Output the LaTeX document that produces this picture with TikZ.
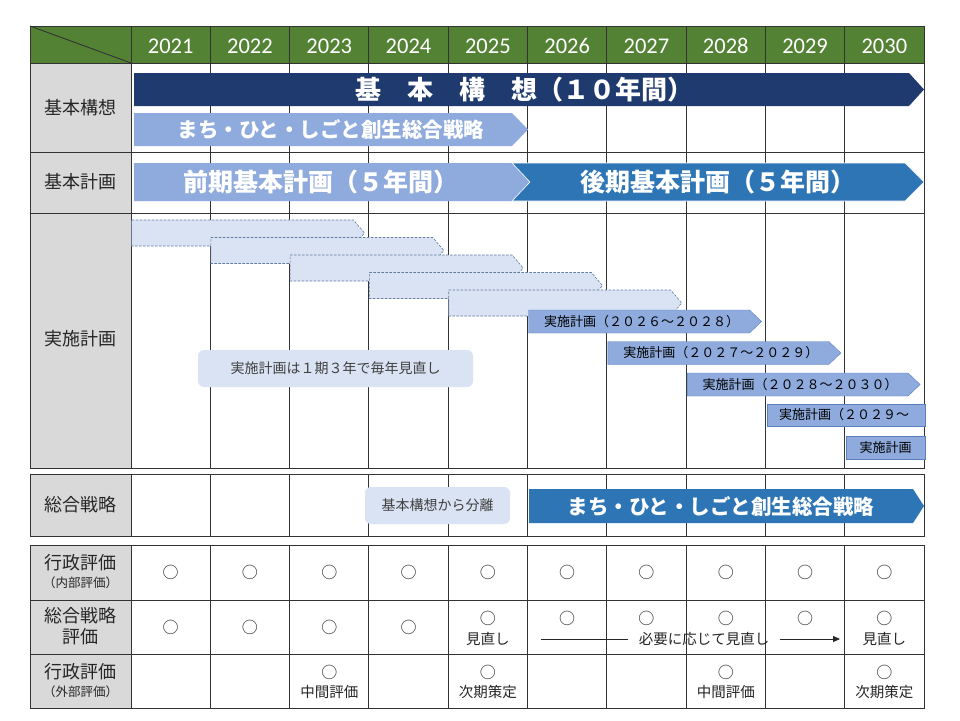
\documentclass[tikz,border=0pt]{standalone}
\usepackage{fontspec}
\setmainfont{Noto Sans CJK JP}
\newfontfamily\yearfont{Carlito}
\usetikzlibrary{arrows.meta}

\definecolor{hdrgreen}{HTML}{548235}
\definecolor{navybar}{HTML}{1F3A6E}
\definecolor{lightbar}{HTML}{8FAADC}
\definecolor{midbar}{HTML}{2E75B6}
\definecolor{cellgray}{HTML}{D9D9D9}
\definecolor{paleblue}{HTML}{DAE3F3}
\definecolor{dashblue}{HTML}{5F7A9E}
\definecolor{barline}{HTML}{5A7FBF}

\tikzset{
  gridline/.style={draw=black!80, line width=0.9pt},
  yeartext/.style={text=white, anchor=base, inner sep=0pt, font=\yearfont\fontsize{22.5}{22.5}\selectfont},
  rowlabel/.style={text=black!85, font=\fontsize{18}{18}\selectfont, inner sep=0pt},
  sublabel/.style={text=black!85, font=\fontsize{12.5}{12.5}\selectfont, inner sep=0pt},
  bartext/.style={text=white, font=\bfseries\fontsize{#1}{#1}\selectfont, inner sep=0pt},
  plantext/.style={text=black, font=\fontsize{13}{13}\selectfont, inner sep=0pt},
  callout/.style={fill=paleblue, rounded corners=6pt, text=black!75, font=\fontsize{14}{14}\selectfont},
  evalmark/.style={text=black!85, font=\fontsize{16}{16}\selectfont, inner sep=0pt},
  evalnote/.style={text=black!85, font=\fontsize{14.5}{14.5}\selectfont, inner sep=0pt},
}

\begin{document}
\begin{tikzpicture}[x=1pt,y=-1pt]
        \useasboundingbox (0,0) rectangle (960,720);
        \fill[white] (0,0) rectangle (960,720);

        % Cell fills
        \fill[hdrgreen] (30,26) rectangle (924,63);
        \fill[cellgray] (30,63) rectangle (131,468);
        \fill[cellgray] (30,474) rectangle (131,536);
        \fill[cellgray] (30,545) rectangle (131,708);

        % Grid: plan section
        \draw[gridline] (30,26) rectangle (924,468);
        \foreach \yy in {63,152,213} \draw[gridline] (30,\yy) -- (924,\yy);
        \foreach \i in {0,...,9} \draw[gridline] ({131+79.3*\i},26) -- ({131+79.3*\i},468);
        \draw[gridline] (30,26) -- (131,63);

        % Grid: strategy section
        \draw[gridline] (30,474) rectangle (924,536);
        \foreach \i in {0,...,9} \draw[gridline] ({131+79.3*\i},474) -- ({131+79.3*\i},536);

        % Grid: evaluation section
        \draw[gridline] (30,545) rectangle (924,708);
        \foreach \yy in {600,654} \draw[gridline] (30,\yy) -- (924,\yy);
        \foreach \i in {0,...,9} \draw[gridline] ({131+79.3*\i},545) -- ({131+79.3*\i},708);

        % Years
        \foreach \yr [count=\i from 0] in {2021,...,2030}
            \node[yeartext] (y\yr) at ({170.65+79.3*\i},53.5) {\yr};

        % Row labels
        \node[rowlabel] (lblkoso) at (80.5,108) {基本構想};
        \node[rowlabel] (lblkeikaku) at (80.5,182) {基本計画};
        \node[rowlabel] (lbljisshi) at (80.5,339) {実施計画};
        \node[rowlabel] (lblsenryaku) at (80.5,505) {総合戦略};
        \node[rowlabel] (lblnaibu) at (80.5,563) {行政評価};
        \node[sublabel] (lblnaibusub) at (80.5,583) {（内部評価）};
        \node[rowlabel] (lblsenhyoka) at (80.5,616) {総合戦略};
        \node[rowlabel] (lblsenhyokasub) at (80.5,637) {評価};
        \node[rowlabel] (lblgaibu) at (80.5,672) {行政評価};
        \node[sublabel] (lblgaibusub) at (80.5,692) {（外部評価）};

        % Basic concept (10 years)
        \fill[navybar] (134,73) -- (909,73) -- (924,89.5) -- (909,106) -- (134,106) -- cycle;
        \node[bartext=26] (koso) at (524,89.5) {基　本　構　想（１０年間）};

        % Town/people/work strategy inside the concept
        \fill[lightbar] (134,113) -- (512,113) -- (528,129.5) -- (512,146) -- (134,146) -- cycle;
        \node[bartext=20.5] (machi) at (331,129.5) {まち・ひと・しごと創生総合戦略};

        % Basic plan: first and second half
        \fill[lightbar] (134,163) -- (512,163) -- (530,182) -- (512,201) -- (134,201) -- cycle;
        \filldraw[fill=midbar, draw=white, line width=0.6pt] (512,163) -- (905,163) -- (924,182) -- (905,201) -- (512,201) -- (530,182) -- cycle;
        \node[bartext=25] (zenki) at (321,182) {前期基本計画（５年間）};
        \node[bartext=25] (koki) at (718,182) {後期基本計画（５年間）};

        % Past implementation plans (dashed)
        \foreach \i in {0,...,4} {
            \pgfmathsetmacro\bx{131.5+79.3*\i}
            \pgfmathsetmacro\by{220+17.5*\i}
            \draw[draw=dashblue, fill=paleblue, line width=0.6pt, dash pattern=on 2.5pt off 1.5pt]
                (\bx,\by) -- ({\bx+222},\by) -- ({\bx+233},{\by+13}) -- ({\bx+222},{\by+26}) -- (\bx,{\by+26}) -- cycle;
        }

        % Coming implementation plans
        \foreach \i/\txt in {0/実施計画（２０２６～２０２８）, 1/実施計画（２０２７～２０２９）, 2/実施計画（２０２８～２０３０）} {
            \pgfmathsetmacro\bx{528.5+79.3*\i}
            \pgfmathsetmacro\by{310+31.5*\i}
            \draw[draw=barline, fill=lightbar] (\bx,\by) -- ({\bx+221},\by) -- ({\bx+233},{\by+11.5}) -- ({\bx+221},{\by+23}) -- (\bx,{\by+23}) -- cycle;
            \node[plantext] (plan\i) at ({\bx+113},{\by+11.5}) {\txt};
        }
        \draw[draw=barline, fill=lightbar] (767,404) rectangle (925,426);
        \node[plantext, anchor=west] (plan3) at (779,415) {実施計画（２０２９～};
        \draw[draw=barline, fill=lightbar] (846,436) rectangle (925,459);
        \node[plantext] (plan4) at (885.5,447.5) {実施計画};

        % Notes
        \node[callout, minimum width=275pt, minimum height=37pt] (cyclenote) at (335.5,368.5) {実施計画は１期３年で毎年見直し};
        \node[callout, minimum width=145pt, minimum height=37pt] (splitnote) at (437.5,505.5) {基本構想から分離};

        % Separate strategy
        \fill[midbar] (529,489) -- (913,489) -- (924,506) -- (913,523) -- (529,523) -- cycle;
        \node[bartext=20.5] (senryaku) at (721,506) {まち・ひと・しごと創生総合戦略};

        % Internal evaluation
        \foreach \i in {0,...,9} \node[evalmark] (naibu\i) at ({170.65+79.3*\i},572) {○};

        % Strategy evaluation
        \foreach \i in {0,...,3} \node[evalmark] (senhyo\i) at ({170.65+79.3*\i},627) {○};
        \foreach \i in {4,...,9} \node[evalmark] (senhyo\i) at ({170.65+79.3*\i},618) {○};
        \node[evalnote] (minaoshi4) at (487.85,639) {見直し};
        \node[evalnote] (minaoshi9) at (884.35,639) {見直し};
        \coordinate (revstart) at (541,639);
        \coordinate (revend) at (840,639);
        \node[evalnote, inner xsep=11pt] (hitsuyo) at (704,639) {必要に応じて見直し};
        \draw[black!85, line width=0.8pt] (revstart) -- (hitsuyo.west);
        \draw[black!85, line width=0.8pt, -{Triangle[length=7pt,width=6pt]}] (hitsuyo.east) -- (revend);

        % External evaluation
        \foreach \i/\note in {2/中間評価, 4/次期策定, 7/中間評価, 9/次期策定} {
            \node[evalmark] (gaibu\i) at ({170.65+79.3*\i},672) {○};
            \node[evalnote] (gaibunote\i) at ({170.65+79.3*\i},692) {\note};
        }
    \end{tikzpicture}
\end{document}
